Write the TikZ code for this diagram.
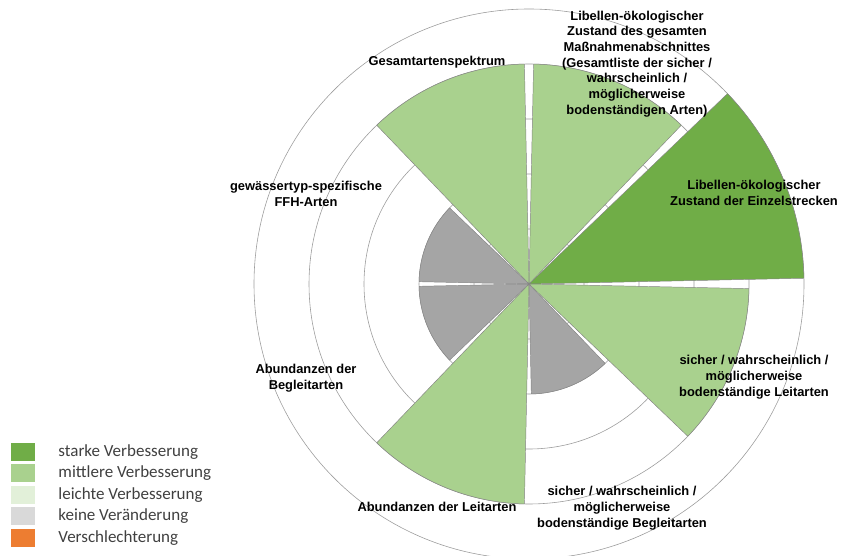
\documentclass[tikz,border=0pt]{standalone}
\usepackage{fontspec}
\setmainfont{Liberation Sans}
\newfontfamily\legendfont{Carlito}
\usetikzlibrary{positioning}
\definecolor{strong}{HTML}{70AD47}
\definecolor{medium}{HTML}{A9D18E}
\definecolor{slight}{HTML}{E2F0D9}
\definecolor{nochange}{HTML}{A5A5A5}
\definecolor{keygray}{HTML}{D9D9D9}
\definecolor{worse}{HTML}{ED7D31}
\definecolor{gridgray}{HTML}{9C9C9C}
\tikzset{
	ring/.style={draw=gridgray, line width=0.5pt},
	sector/.style={draw=gridgray!85!black, line width=0.4pt},
	axislabel/.style={font=\bfseries\fontsize{11}{13.4}\selectfont, align=center, text=black, inner sep=0pt},
	legendbox/.style={minimum width=0.72cm, minimum height=0.54cm, inner sep=0pt},
	legendtext/.style={font=\legendfont\fontsize{14.5}{16}\selectfont, text=black!75, inner sep=0pt, anchor=west},
	node distance=0.09cm}

\begin{document}
\begin{tikzpicture}[x=0.03cm, y=0.03cm]
	\useasboundingbox (0,0) rectangle (843,555);
	\coordinate (O) at (529,271);
	
	% rings
	\foreach \r in {55,110,...,275}
		\draw[ring] (O) circle[radius=\r];
	
	% sectors
	\foreach \a/\r/\c in {0/275/strong, 45/220/medium, 90/220/medium, 135/110/nochange,
		180/110/nochange, 225/220/medium, 270/110/nochange, 315/220/medium}
		\filldraw[sector, fill=\c] (O) -- ++(\a+1.2:\r) arc[start angle=\a+1.2, end angle=\a+43.8, radius=\r] -- cycle;
	
	% labels
	\node[axislabel] (zustGesamt) at (637,491) {Libellen-ökologischer\\Zustand des gesamten\\Maßnahmenabschnittes\\(Gesamtliste der sicher /\\wahrscheinlich /\\möglicherweise\\bodenständigen Arten)};
	\node[axislabel] (spektrum) at (437,493) {Gesamtartenspektrum};
	\node[axislabel] (zustEinzel) at (754,362) {Libellen-ökologischer\\Zustand der Einzelstrecken};
	\node[axislabel] (ffh) at (306,361) {gewässertyp-spezifische\\FFH-Arten};
	\node[axislabel] (abBegleit) at (306,177) {Abundanzen der\\Begleitarten};
	\node[axislabel] (abLeit) at (437,48) {Abundanzen der Leitarten};
	\node[axislabel] (bodBegleit) at (622,47) {sicher / wahrscheinlich /\\möglicherweise\\bodenständige Begleitarten};
	\node[axislabel] (bodLeit) at (754,178) {sicher / wahrscheinlich /\\möglicherweise\\bodenständige Leitarten};
	
	% legend
	\node[legendbox, fill=strong] (kStrong) at (23,103) {};
	\node[legendbox, fill=medium, below=of kStrong] (kMedium) {};
	\node[legendbox, fill=slight, below=of kMedium] (kSlight) {};
	\node[legendbox, fill=keygray, below=of kSlight] (kNone) {};
	\node[legendbox, fill=worse, below=of kNone] (kWorse) {};
	\node[legendtext, right=0.69cm of kStrong] (tStrong) {starke Verbesserung};
	\node[legendtext, right=0.69cm of kMedium] (tMedium) {mittlere Verbesserung};
	\node[legendtext, right=0.69cm of kSlight] (tSlight) {leichte Verbesserung};
	\node[legendtext, right=0.69cm of kNone] (tNone) {keine Veränderung};
	\node[legendtext, right=0.69cm of kWorse] (tWorse) {Verschlechterung};
\end{tikzpicture}
\end{document}
